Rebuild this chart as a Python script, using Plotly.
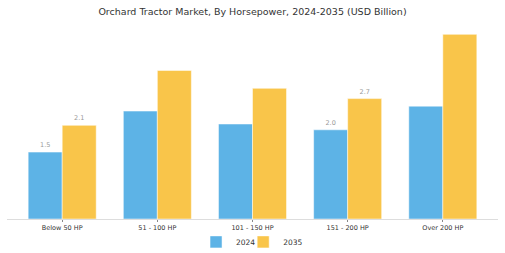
import plotly.graph_objects as go

categories = ["Below 50 HP", "51 - 100 HP", "101 - 150 HP", "151 - 200 HP", "Over 200 HP"]
values_2024 = [1.5, 2.42, 2.13, 2.0, 2.53]
values_2035 = [2.1, 3.33, 2.93, 2.7, 4.14]
labels_2024 = ["1.5", "", "", "2.0", ""]
labels_2035 = ["2.1", "", "", "2.7", ""]

fig = go.Figure()
fig.add_trace(go.Bar(name="2024", x=categories, y=values_2024, text=labels_2024,
                     textposition="outside", textfont=dict(size=6.5, color="#999999"),
                     marker=dict(color="#5DB3E6", line=dict(color="white", width=0.5)),
                     cliponaxis=False, legend="legend", showlegend=True))
fig.add_trace(go.Bar(name="2035", x=categories, y=values_2035, text=labels_2035,
                     textposition="outside", textfont=dict(size=6.5, color="#999999"),
                     marker=dict(color="#F9C54A", line=dict(color="white", width=0.5)),
                     cliponaxis=False, legend="legend2", showlegend=True))

legend_common = dict(orientation="h", xanchor="left", y=-0.118, yanchor="middle",
                     font=dict(size=7.5), itemwidth=30, bgcolor="rgba(0,0,0,0)",
                     visible=True)

fig.update_layout(
    width=505, height=253,
    margin=dict(l=7, r=7, t=25, b=34, autoexpand=False),
    paper_bgcolor="white", plot_bgcolor="white",
    barmode="group", bargap=0.285, bargroupgap=0.0,
    showlegend=True,
    title=dict(text="Orchard Tractor Market, By Horsepower, 2024-2035 (USD Billion)",
               x=0.5, xanchor="center", y=0.955, yanchor="middle",
               font=dict(family="DejaVu Sans", size=9.5, color="#333333")),
    font=dict(family="DejaVu Sans", color="#333333"),
    legend=dict(x=0.385, **legend_common),
    legend2=dict(x=0.481, **legend_common),
    xaxis=dict(range=[-0.58, 4.58], showline=True, linecolor="#dddddd", linewidth=1,
               ticks="outside", ticklen=2, tickcolor="#888888", tickwidth=1,
               tickfont=dict(size=6.5), showgrid=False),
    yaxis=dict(range=[0, 4.35], visible=False, showgrid=False),
)

fig.write_html("out.html")
